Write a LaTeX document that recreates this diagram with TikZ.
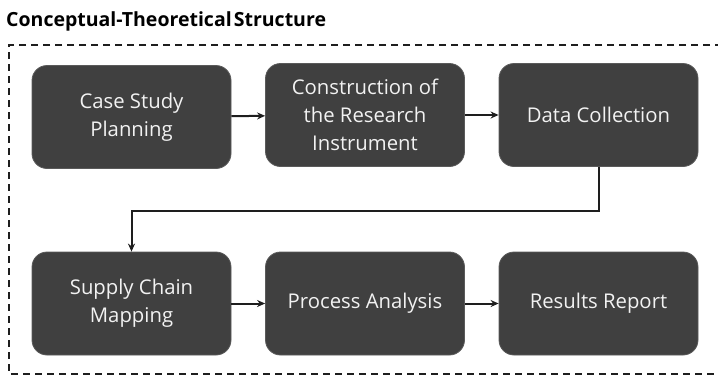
\documentclass[tikz,border=0pt]{standalone}
\usepackage{fontspec}
\setmainfont{Open Sans}
\usetikzlibrary{arrows.meta}
\definecolor{boxfill}{HTML}{404040}
\definecolor{boxedge}{HTML}{5A5A5A}
\definecolor{boxtext}{HTML}{F2F2F2}
\definecolor{inkline}{HTML}{1E1E1E}
\begin{document}
\begin{tikzpicture}[x=1pt,y=-1pt,
  stage/.style={rectangle, rounded corners=15pt, fill=boxfill, draw=boxedge, line width=0.8pt,
    minimum width=199pt, minimum height=103pt, text=boxtext, align=center,
    font=\fontsize{20.3}{28}\selectfont, inner sep=0pt},
  flow/.style={draw=inkline, line width=2pt, -{Stealth[length=8pt,width=7pt]}},
  frame/.style={draw=inkline, line width=1.8pt, dash pattern=on 7pt off 5pt}]
\useasboundingbox (0,0) rectangle (718,376);
% title and dashed frame
\node[anchor=base west, font=\fontsize{19.5}{22}\selectfont\bfseries, text=black, inner sep=0pt]
  (title) at (6,26) {Conceptual-Theoretical\hspace{-0.15em} Structure};
\draw[frame] (722,45) -- (9,45) -- (9,374) -- (722,374);
% first row
\node[stage] (plan) at (131.5,117) {Case Study\\Planning};
\node[stage] (instr) at (365,115) {Construction of\\the Research\\Instrument};
\node[stage] (data) at (598.5,115) {Data Collection};
% second row
\node[stage] (map) at (131.5,303.5) {Supply Chain\\Mapping};
\node[stage] (proc) at (365,303.5) {Process Analysis};
\node[stage] (rep) at (598.5,303.5) {Results Report};
% connectors
\draw[flow] (plan) -- (instr);
\draw[flow] (instr) -- (data);
\draw[flow] (data.south) -- ++(0,44) -| (map.north);
\draw[flow] (map) -- (proc);
\draw[flow] (proc) -- (rep);
\end{tikzpicture}
\end{document}
